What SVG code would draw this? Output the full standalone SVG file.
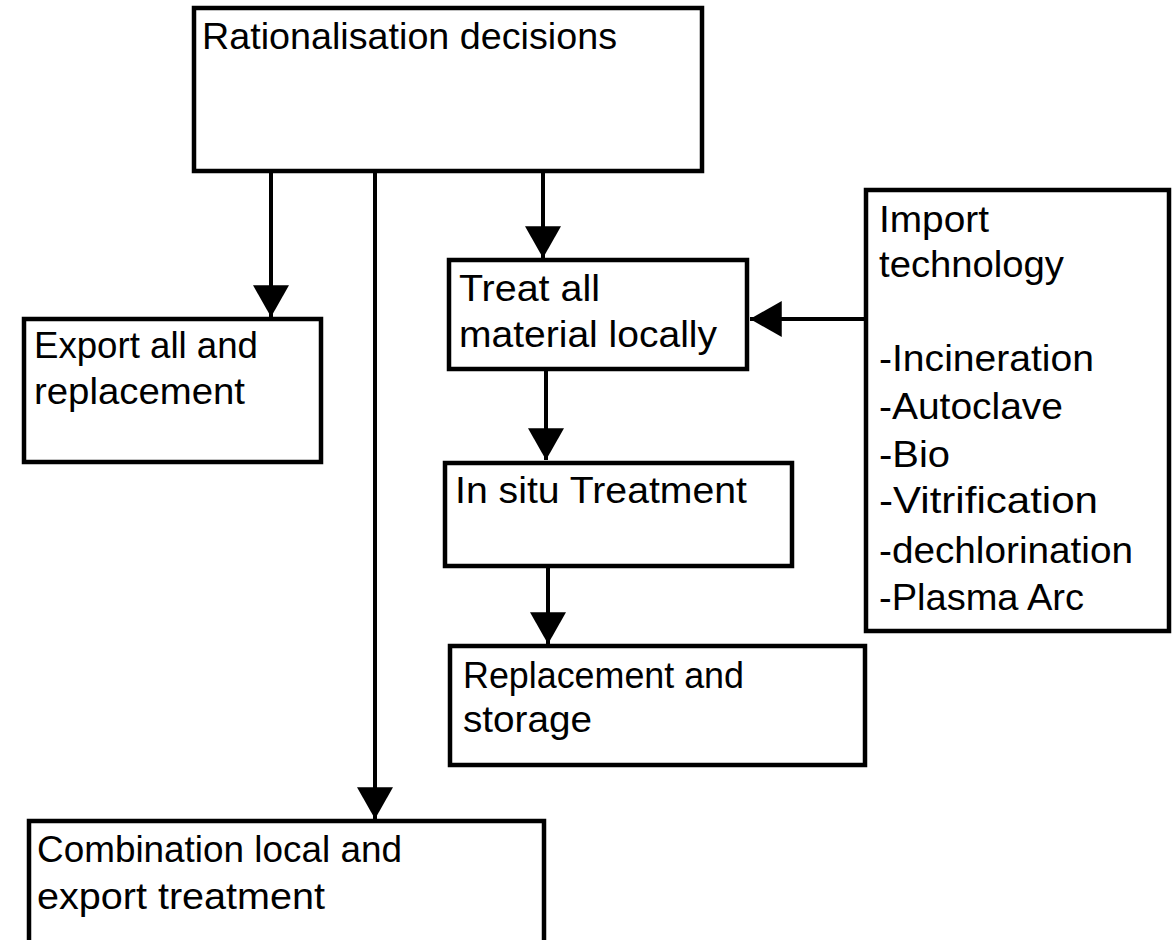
<svg xmlns="http://www.w3.org/2000/svg" width="1173" height="940" viewBox="0 0 1173 940">
<style>
.box{fill:#fff;stroke:#000;stroke-width:4.5}
.t{font-family:"Liberation Sans",Arial,sans-serif;font-size:36px;fill:#000}
.c{stroke:#000;stroke-width:4;fill:none}
</style>
<defs>
<marker id="ah" markerWidth="36" markerHeight="36" viewBox="0 0 30 34" refX="30" refY="17" orient="auto" markerUnits="userSpaceOnUse">
<path d="M0,0 L30,17 L0,34 Z" fill="#000"/>
</marker>
</defs>
<rect width="1173" height="940" fill="#fff"/>
<g id="connectors">
<line class="c" x1="271" y1="171" x2="271" y2="317" marker-end="url(#ah)"/>
<line class="c" x1="375" y1="171" x2="375" y2="819" marker-end="url(#ah)"/>
<line class="c" x1="543" y1="171" x2="543" y2="258" marker-end="url(#ah)"/>
<line class="c" x1="546" y1="369" x2="546" y2="460" marker-end="url(#ah)"/>
<line class="c" x1="548" y1="567" x2="548" y2="644" marker-end="url(#ah)"/>
<line class="c" x1="871" y1="319" x2="750" y2="319" marker-end="url(#ah)"/>
</g>
<g id="rationalisation">
<rect class="box" x="194" y="8" width="508" height="163"/>
<text class="t" x="202" y="49" textLength="415" lengthAdjust="spacingAndGlyphs">Rationalisation decisions</text>
</g>
<g id="export">
<rect class="box" x="24" y="319" width="297" height="143"/>
<text class="t" x="34" y="358" textLength="224" lengthAdjust="spacingAndGlyphs">Export all and</text>
<text class="t" x="34" y="404" textLength="211" lengthAdjust="spacingAndGlyphs">replacement</text>
</g>
<g id="treat">
<rect class="box" x="449" y="260" width="298" height="109"/>
<text class="t" x="459" y="301" textLength="141" lengthAdjust="spacingAndGlyphs">Treat all</text>
<text class="t" x="459" y="347" textLength="258" lengthAdjust="spacingAndGlyphs">material locally</text>
</g>
<g id="insitu">
<rect class="box" x="445" y="463" width="347" height="103"/>
<text class="t" x="455" y="503" textLength="292" lengthAdjust="spacingAndGlyphs">In situ Treatment</text>
</g>
<g id="replacement">
<rect class="box" x="450" y="646" width="415" height="119"/>
<text class="t" x="463" y="688" textLength="281" lengthAdjust="spacingAndGlyphs">Replacement and</text>
<text class="t" x="463" y="732" textLength="129" lengthAdjust="spacingAndGlyphs">storage</text>
</g>
<g id="combination">
<rect class="box" x="29" y="821" width="515" height="130"/>
<text class="t" x="37" y="862" textLength="365" lengthAdjust="spacingAndGlyphs">Combination local and</text>
<text class="t" x="37" y="909" textLength="288" lengthAdjust="spacingAndGlyphs">export treatment</text>
</g>
<g id="import">
<rect class="box" x="866" y="190" width="303" height="441"/>
<text class="t" x="879" y="232" textLength="110" lengthAdjust="spacingAndGlyphs">Import</text>
<text class="t" x="879" y="277" textLength="185" lengthAdjust="spacingAndGlyphs">technology</text>
<text class="t" x="879" y="371" textLength="215" lengthAdjust="spacingAndGlyphs">-Incineration</text>
<text class="t" x="879" y="419" textLength="184" lengthAdjust="spacingAndGlyphs">-Autoclave</text>
<text class="t" x="879" y="467" textLength="71" lengthAdjust="spacingAndGlyphs">-Bio</text>
<text class="t" x="879" y="513" textLength="219" lengthAdjust="spacingAndGlyphs">-Vitrification</text>
<text class="t" x="879" y="563" textLength="254" lengthAdjust="spacingAndGlyphs">-dechlorination</text>
<text class="t" x="879" y="610" textLength="205" lengthAdjust="spacingAndGlyphs">-Plasma Arc</text>
</g>
</svg>
